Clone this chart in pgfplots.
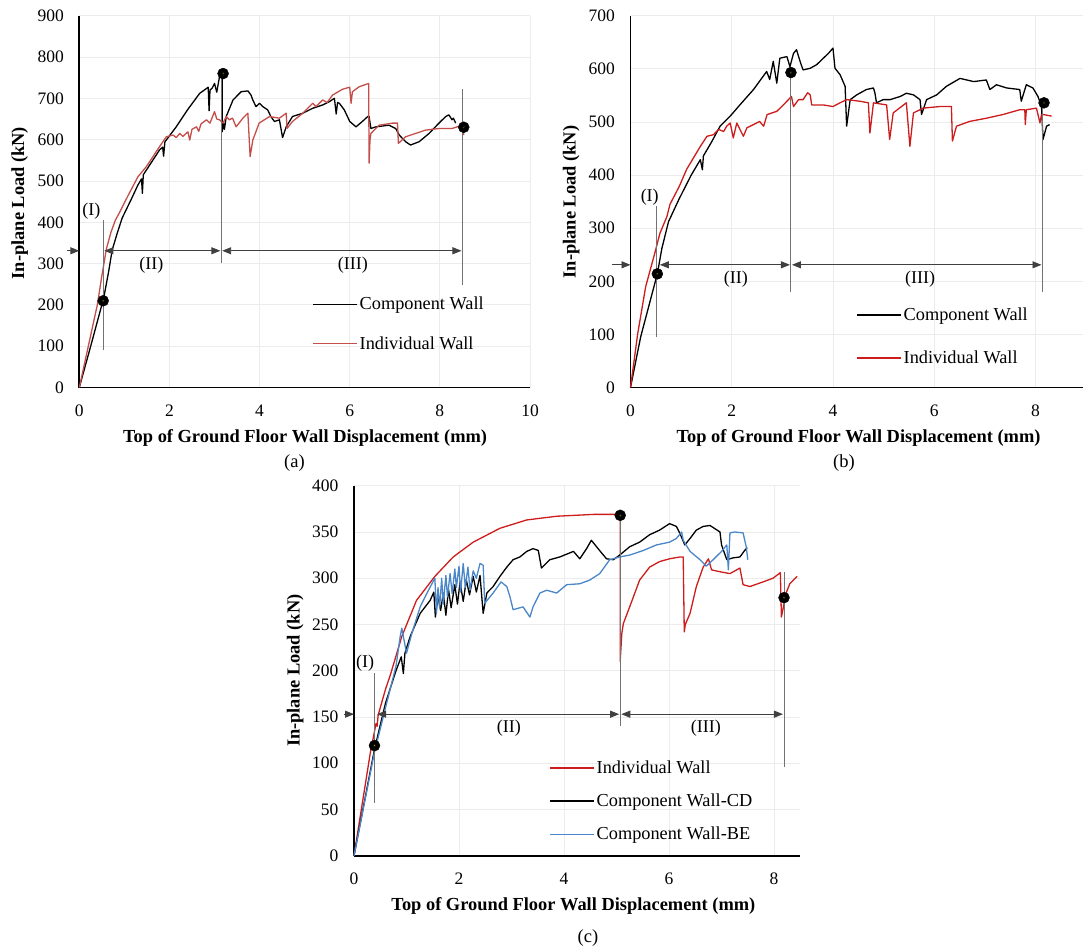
\documentclass[border=0pt]{standalone}
\usepackage{fontspec}
\setmainfont{Liberation Serif}
\usepackage{pgfplots}
\pgfplotsset{compat=1.18}
\usetikzlibrary{arrows.meta}
\definecolor{redA}{RGB}{196,78,74}
\definecolor{redB}{RGB}{204,28,28}
\definecolor{blueC}{RGB}{74,134,200}
\definecolor{gridc}{RGB}{236,236,236}
\definecolor{annotc}{RGB}{115,115,115}
\tikzset{lbl/.style={font=\fontsize{18}{20}\selectfont}}
\pgfplotsset{
 panel/.style={
  scale only axis, axis x line*=bottom, axis y line*=left,
  axis line style={black, line width=1.8pt, -},
  grid=major, major grid style={gridc, line width=0.8pt},
  major tick length=0pt,
  tick label style={font=\fontsize{17.5}{20}\selectfont},
  /pgf/number format/assume math mode=true,
  label style={font=\fontsize{18.4}{22}\selectfont\bfseries},
  xlabel={Top of Ground Floor Wall Displacement (mm)},
  ylabel={In-plane Load (kN)},
  clip=false, enlargelimits=false, xmin=0, ymin=0,
  legend style={draw=none, fill=none, font=\fontsize{18.3}{22}\selectfont, row sep=21pt},
  legend cell align=left,
  legend image code/.code={\draw[##1] (0pt,0pt) -- (44pt,0pt);},
  xticklabel style={yshift=-14pt},
  yticklabel style={xshift=-12pt},
 },
 dline/.style={line width=1.3pt, line join=round},
 annot/.style={annotc, line width=1pt, forget plot},
 darrow/.style={black!75, line width=0.9pt, {Triangle[length=9pt,width=7pt]}-{Triangle[length=9pt,width=7pt]}, forget plot},
 rarrow/.style={black!75, line width=0.9pt, -{Triangle[length=9pt,width=7pt]}, forget plot},
 bigpt/.style={only marks, mark=*, mark size=5.5pt, mark options={fill=black, draw=black}, forget plot},
 ptc/.style={only marks, mark=*, mark size=1pt, mark options={fill=yellow, draw=none}, forget plot},
}
\begin{document}
\begin{tikzpicture}
\path[use as bounding box] (0pt,0pt) rectangle (1083pt,-951pt);

% ---------------- (a) ----------------
\begin{axis}[panel, at={(79.3pt,-387.5pt)}, anchor=south west,
  width=450.7pt, height=371.8pt, xmax=10, ymax=900,
  xtick={0,2,...,10}, ytick={0,100,...,900},
  xlabel style={at={(axis description cs:0.501,-0.135)}, anchor=center},
  ylabel style={at={(axis description cs:-0.1325,0.496)}, anchor=center},
  legend style={at={(axis cs:5.1,154)}, anchor=west}]
\addplot[dline, black] coordinates {
(0,0) (0.25,99) (0.5,200) (0.53,210) (0.65,280) (0.73,333) (0.84,373) (0.95,410) (1.15,455) (1.3,490) (1.38,505) (1.40,470) (1.42,515) (1.6,545) (1.78,575) (1.85,582) (1.87,560) (1.9,595) (1.93,599) (2.15,631) (2.4,672) (2.67,712) (2.8,722) (2.86,727) (2.88,670) (2.9,720) (2.95,725) (3.0,736) (3.05,715) (3.11,752) (3.17,760) (3.17,619) (3.2,640) (3.22,625) (3.26,656) (3.41,696) (3.59,716) (3.74,718) (3.81,708) (3.85,696) (3.92,680) (4.0,688) (4.07,680) (4.18,672) (4.25,656) (4.33,644) (4.44,648) (4.51,605) (4.59,631) (4.73,656) (4.96,664) (5.18,676) (5.4,684) (5.55,692) (5.66,700) (5.7,662) (5.73,690) (5.77,688) (5.88,672) (6.0,644) (6.14,631) (6.28,644) (6.4,656) (6.43,656) (6.47,627) (6.58,631) (6.87,635) (7.02,627) (7.1,611) (7.24,595) (7.35,587) (7.54,595) (7.76,615) (7.98,640) (8.13,656) (8.2,660) (8.27,648) (8.3,652) (8.35,640)};
\addlegendentry{Component Wall}
\addplot[dline, redA] coordinates {
(0,0) (0.2,100) (0.4,200) (0.5,270) (0.6,335) (0.7,375) (0.8,405) (0.9,425) (1.07,462) (1.3,510) (1.49,535) (1.78,583) (1.93,607) (2.08,611) (2.15,605) (2.23,615) (2.3,608) (2.41,619) (2.45,599) (2.5,625) (2.6,631) (2.65,620) (2.7,638) (2.82,648) (2.9,640) (3.0,668) (3.05,650) (3.11,648) (3.19,640) (3.26,656) (3.33,648) (3.4,652) (3.48,631) (3.63,652) (3.74,664) (3.79,559) (3.85,599) (3.99,640) (4.22,656) (4.44,652) (4.59,664) (4.61,627) (4.73,644) (4.96,664) (5.18,688) (5.25,680) (5.4,696) (5.5,690) (5.62,708) (5.84,722) (6.0,727) (6.03,688) (6.06,716) (6.21,728) (6.42,736) (6.43,543) (6.45,600) (6.47,615) (6.65,635) (6.95,640) (7.06,640) (7.08,591) (7.24,607) (7.46,615) (7.68,623) (7.98,627) (8.27,627) (8.5,635) (8.53,611)};
\addlegendentry{Individual Wall}
\addplot[annot] coordinates {(0.53,91) (0.53,405)};
\addplot[annot] coordinates {(3.15,301) (3.15,760)};
\addplot[annot] coordinates {(8.5,248) (8.5,723)};
\addplot[rarrow] coordinates {(-0.27,331) (0,331)};
\addplot[darrow] coordinates {(0.555,331) (3.13,331)};
\addplot[darrow] coordinates {(3.17,331) (8.48,331)};
\addplot[bigpt] coordinates {(0.53,210) (3.19,760) (8.53,630)};
\addplot[ptc] coordinates {(0.53,210) (3.19,760) (8.53,630)};
\node[lbl] at (axis cs:0.27,426) {(I)};
\node[lbl] at (axis cs:1.6,295) {(II)};
\node[lbl] at (axis cs:6.07,295) {(III)};
\end{axis}

% ---------------- (b) ----------------
\begin{axis}[panel, at={(630.5pt,-387.5pt)}, anchor=south west,
  width=452.5pt, height=371.8pt, xmax=8.94, ymax=700,
  xtick={0,2,...,8}, ytick={0,100,...,700},
  xlabel style={at={(axis description cs:0.504,-0.135)}, anchor=center},
  ylabel style={at={(axis description cs:-0.131,0.499)}, anchor=center},
  legend style={at={(axis cs:4.4,96)}, anchor=west, row sep=25pt}]
\addplot[dline, black] coordinates {
(0,0) (0.2,95) (0.53,214) (0.62,262) (0.75,312) (0.96,355) (1.2,400) (1.38,429) (1.42,410) (1.44,436) (1.6,462) (1.77,492) (1.97,511) (2.16,532) (2.43,561) (2.69,595) (2.75,580) (2.82,614) (2.89,573) (2.95,620) (3.09,623) (3.15,604) (3.22,629) (3.28,636) (3.36,611) (3.41,598) (3.55,601) (3.68,608) (3.81,620) (3.91,629) (4.0,639) (4.04,601) (4.14,589) (4.24,567) (4.27,492) (4.34,542) (4.47,551) (4.66,561) (4.8,564) (4.83,554) (4.86,536) (4.99,542) (5.13,542) (5.33,548) (5.45,554) (5.59,551) (5.72,542) (5.75,514) (5.85,542) (6.05,551) (6.24,567) (6.51,582) (6.78,576) (7.03,579) (7.1,561) (7.23,570) (7.43,564) (7.69,561) (7.72,539) (7.82,570) (7.95,564) (8.05,548) (8.12,529) (8.15,467) (8.22,492) (8.28,495)};
\addlegendentry{Component Wall}
\addplot[dline, redB] coordinates {
(0,0) (0.14,100) (0.3,190) (0.48,253) (0.58,290) (0.72,322) (0.78,345) (0.96,378) (1.11,411) (1.38,454) (1.51,473) (1.64,476) (1.74,486) (1.84,482) (1.9,492) (1.97,498) (2.03,470) (2.1,498) (2.23,473) (2.3,489) (2.43,495) (2.55,501) (2.63,492) (2.7,514) (2.89,520) (3.02,532) (3.18,548) (3.22,529) (3.32,542) (3.41,542) (3.5,555) (3.55,551) (3.58,532) (3.81,532) (4.0,529) (4.14,536) (4.27,542) (4.53,539) (4.7,536) (4.73,479) (4.8,536) (5.06,532) (5.12,467) (5.19,517) (5.45,536) (5.52,454) (5.59,517) (5.78,526) (6.11,529) (6.34,529) (6.36,464) (6.44,492) (6.7,501) (7.03,507) (7.36,514) (7.69,523) (7.79,523) (7.8,495) (7.82,523) (8.02,526) (8.09,498) (8.12,514) (8.15,514) (8.32,511)};
\addlegendentry{Individual Wall}
\addplot[annot] coordinates {(0.51,96) (0.51,341)};
\addplot[annot] coordinates {(3.17,179) (3.17,595)};
\addplot[annot] coordinates {(8.14,179) (8.14,541)};
\addplot[rarrow] coordinates {(-0.375,231) (0,231)};
\addplot[darrow] coordinates {(0.58,231) (3.15,231)};
\addplot[darrow] coordinates {(3.19,231) (8.12,231)};
\addplot[bigpt] coordinates {(0.53,214) (3.17,593) (8.17,536)};
\addplot[ptc] coordinates {(0.53,214) (3.17,593) (8.17,536)};
\node[lbl] at (axis cs:0.38,359) {(I)};
\node[lbl] at (axis cs:2.08,204) {(II)};
\node[lbl] at (axis cs:5.72,204) {(III)};
\end{axis}

% ---------------- (c) ----------------
\begin{axis}[panel, at={(354pt,-855.7pt)}, anchor=south west,
  width=446.3pt, height=370pt, xmax=8.5, ymax=400,
  xtick={0,2,...,8}, ytick={0,50,...,400},
  xlabel style={at={(axis description cs:0.4916,-0.136)}, anchor=center},
  ylabel style={at={(axis description cs:-0.132,0.5)}, anchor=center},
  legend style={at={(axis cs:3.66,59)}, anchor=west, row sep=15pt}]
\addplot[dline, redB] coordinates {
(0,0) (0.31,111) (0.42,143) (0.44,140) (0.46,152) (0.6,180) (0.69,195) (0.91,237) (1.19,276) (1.54,302) (1.89,323) (2.27,339) (2.78,354) (3.29,363) (3.86,367) (4.56,369) (5.07,369) (5.07,210) (5.1,240) (5.13,251) (5.25,269) (5.44,298) (5.63,312) (5.82,318) (6.01,321) (6.21,323) (6.27,323) (6.29,242) (6.31,250) (6.4,262) (6.52,291) (6.65,312) (6.75,321) (6.81,309) (6.97,307) (7.16,305) (7.35,311) (7.41,293) (7.54,291) (7.79,296) (7.98,300) (8.12,306) (8.14,258) (8.23,284) (8.3,294) (8.44,302)};
\addlegendentry{Individual Wall}
\addplot[dline, black] coordinates {
(0,0) (0.39,115) (0.6,165) (0.8,200) (0.9,215) (0.94,197) (0.97,219) (1.07,237) (1.26,262) (1.45,276) (1.52,285) (1.55,258) (1.6,280) (1.65,265) (1.7,284) (1.75,260) (1.8,288) (1.85,268) (1.92,293) (1.97,272) (2.02,296) (2.08,275) (2.14,298) (2.2,282) (2.27,302) (2.33,285) (2.4,303) (2.46,262) (2.53,284) (2.65,291) (2.78,302) (2.91,312) (3.03,320) (3.16,323) (3.29,329) (3.41,332) (3.51,330) (3.57,311) (3.73,320) (3.92,323) (4.18,329) (4.3,321) (4.43,332) (4.52,341) (4.62,334) (4.72,327) (4.81,321) (4.94,320) (5.06,325) (5.25,334) (5.44,339) (5.63,347) (5.82,352) (6.01,359) (6.14,356) (6.21,348) (6.3,336) (6.4,343) (6.52,352) (6.65,356) (6.78,357) (6.97,350) (7.0,336) (7.1,320) (7.22,322) (7.35,323) (7.44,330) (7.49,333)};
\addlegendentry{Component Wall-CD}
\addplot[dline, blueC] coordinates {
(0,0) (0.39,112) (0.6,160) (0.8,205) (0.88,237) (0.91,246) (1.0,219) (1.1,240) (1.26,269) (1.4,285) (1.54,300) (1.57,262) (1.6,290) (1.63,268) (1.67,300) (1.7,272) (1.75,303) (1.78,280) (1.83,305) (1.87,283) (1.92,310) (1.95,290) (2.0,313) (2.03,285) (2.08,316) (2.12,290) (2.17,312) (2.21,287) (2.27,308) (2.33,300) (2.4,316) (2.46,314) (2.49,273) (2.65,284) (2.8,296) (2.91,291) (2.97,280) (3.03,266) (3.22,269) (3.35,258) (3.41,269) (3.54,284) (3.67,287) (3.86,284) (4.05,293) (4.3,294) (4.49,298) (4.68,305) (4.87,320) (5.06,323) (5.25,325) (5.51,330) (5.76,336) (6.01,339) (6.14,343) (6.24,350) (6.27,341) (6.4,329) (6.59,320) (6.71,313) (6.84,320) (7.0,329) (7.1,336) (7.13,309) (7.16,349) (7.25,350) (7.41,349) (7.47,334) (7.5,320)};
\addlegendentry{Component Wall-BE}
\addplot[annot] coordinates {(0.39,57) (0.39,197)};
\addplot[annot] coordinates {(5.07,140) (5.07,369)};
\addplot[annot] coordinates {(8.19,96) (8.19,307)};
\addplot[rarrow] coordinates {(-0.2,153) (0,153)};
\addplot[darrow] coordinates {(0.44,153) (5.05,153)};
\addplot[darrow] coordinates {(5.09,153) (8.17,153)};
\addplot[bigpt] coordinates {(0.39,119) (5.07,368) (8.19,279)};
\addplot[ptc] coordinates {(0.39,119) (5.07,368) (8.19,279)};
\node[lbl] at (axis cs:0.21,208) {(I)};
\node[lbl] at (axis cs:2.95,138) {(II)};
\node[lbl] at (axis cs:6.7,138) {(III)};
\end{axis}

\node[font=\fontsize{18.5}{20}\selectfont] at (294.4pt,-463pt) {(a)};
\node[font=\fontsize{18.5}{20}\selectfont] at (844pt,-463pt) {(b)};
\node[font=\fontsize{18.5}{20}\selectfont] at (588pt,-938pt) {(c)};
\end{tikzpicture}
\end{document}
